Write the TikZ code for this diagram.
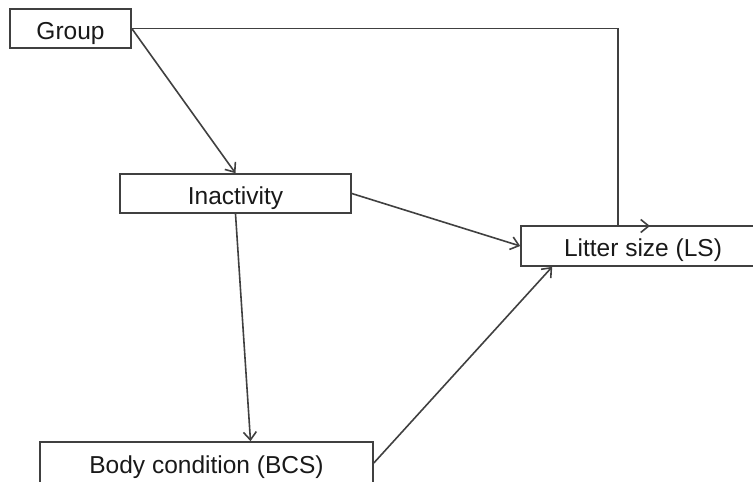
\documentclass[tikz,border=0pt]{standalone}
\usepackage{fontspec}
\setmainfont{Liberation Sans}
\usetikzlibrary{arrows.meta,calc}
\tikzset{>={Straight Barb[length=8pt,width=13pt]},
  box/.style={draw,rectangle,inner sep=0pt,font=\fontsize{24.5}{28}\selectfont,text=black!90,
    text height=21.5pt,text depth=0pt}}

\begin{document}
\begin{tikzpicture}[->,x=1pt,y=-1pt,line width=1.6pt,draw=black!75]
    \useasboundingbox (0,0) rectangle (753,482);
    \node[box,minimum width=121pt,minimum height=39pt] (grp) at (70.5,28.5) {Group};
    \node[box,minimum width=231pt,minimum height=39pt] (inact) at (235.5,193.5) {Inactivity};
    \node[box,minimum width=244pt,minimum height=40pt] (ls) at (643,246) {Litter size (LS)};
    \node[box,minimum width=333pt,minimum height=42pt] (bcs) at (206.5,463) {Body condition (BCS)};
    \coordinate (turn) at (618,226);
    \coordinate (lsin) at (650,226);
    \path
    (grp.east) edge (inact.north)
    (inact.east) edge (ls.west)
    (inact.south) edge ($(bcs.north)+(44,0)$)
    (bcs.east) edge ($(ls.south west)+(32,0)$)
    ;
    \draw (grp.east) -| (turn) -- (lsin);
\end{tikzpicture}
\end{document}
